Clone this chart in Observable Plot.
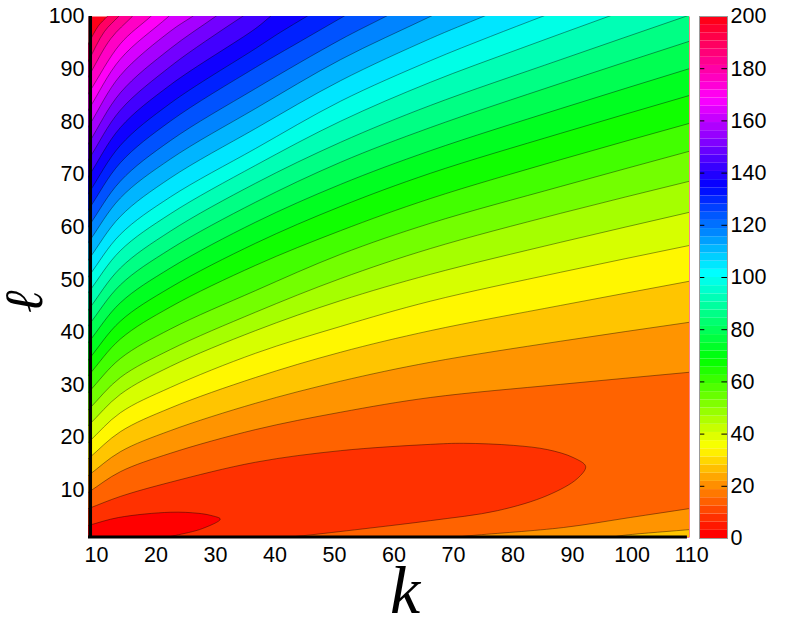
<!DOCTYPE html>
<html>
<head>
<meta charset="utf-8">
<script src="https://cdn.jsdelivr.net/npm/d3@7"></script>
<script src="https://cdn.jsdelivr.net/npm/@observablehq/plot@0.6"></script>
<style>
html,body{margin:0;padding:0;background:#fff}
#chart{position:relative;width:789px;height:619px;overflow:hidden}
#chart svg{position:absolute;left:0;top:0}
</style>
</head>
<body>
<div id="chart"></div>
<script>
// Band colours, lowest value (index 0) to highest
const bandColors = ["#ff0000","#ff3100","#ff6300","#ff9400","#ffc500","#fff700","#d6ff00","#a5ff00","#73ff00","#42ff00","#10ff00","#00ff21","#00ff52","#00ff84","#00ffb5","#00ffe6","#00e6ff","#00b5ff","#0084ff","#0052ff","#0021ff","#1000ff","#4200ff","#7300ff","#a500ff","#d600ff","#ff00f7","#ff00c5","#ff0094","#ff0063","#ff0018"];

// Contours 3..13 read at shared k columns (they run from the left edge to the right edge)
const gridK = [8.65,14,22.4,36.7,51,66.1,88,109.65];
const contoursOnGrid = [
  [9.6,13.5,17.0,21.5,24.8,27.6,30.1,32.4],
  [12.8,17.3,21.3,26.5,30.7,34.3,38.3,41.9],
  [16.0,21.1,25.6,31.4,36.2,40.3,45.1,49.7],
  [19.1,24.7,29.5,36.0,41.1,45.9,51.4,56.5],
  [22.3,28.2,33.5,40.3,46.0,51.0,57.1,62.8],
  [25.3,31.4,36.7,43.8,50.2,55.9,62.6,68.7],
  [28.6,35.0,40.6,47.9,54.8,60.7,67.7,74.4],
  [31.8,38.7,44.8,52.7,59.3,65.4,72.8,79.7],
  [34.8,42.1,48.5,56.9,63.9,70.2,77.8,85.0],
  [38.1,45.6,52.2,60.9,68.1,74.5,82.5,90.1],
  [41.3,49.0,55.8,64.7,72.3,78.9,87.3,95.3]
];
// Contours 14..30 run from the left edge to the top edge: [k, l] pairs
const contoursToTop = [
  [[8.65,44.3],[14,52.2],[22.4,59.2],[36.7,68.3],[51,76.1],[66.1,83.1],[88,91.8],[108.95,100]],
  [[8.65,47.6],[14,55.5],[22.4,62.5],[36.7,71.7],[51,80.1],[66.1,87.5],[81.2,93.9],[96.0,100]],
  [[8.65,50.6],[14,58.6],[22.4,65.7],[36.7,74.9],[51,83.9],[66.1,91.6],[76.2,96.2],[84.9,100]],
  [[8.65,53.8],[14,62.0],[22.4,69.3],[36.7,78.7],[51,87.8],[66.1,95.8],[75.0,100]],
  [[8.65,57.1],[14,65.5],[22.4,72.9],[36.7,82.5],[51,91.8],[66.1,100]],
  [[8.65,60.1],[14,68.7],[22.4,76.4],[36.7,86.3],[51,95.6],[58.6,100]],
  [[8.65,63.3],[14,72.2],[22.4,80.1],[36.7,90.3],[44.3,95.3],[51.5,100]],
  [[8.65,66.4],[14,75.5],[22.4,83.5],[36.7,93.9],[40.9,97.0],[45.3,100]],
  [[8.65,69.6],[14,78.9],[22.4,87.0],[36.7,97.7],[39.2,100]],
  [[8.65,72.8],[14,82.2],[22.4,90.5],[28.3,95.3],[34.5,100]],
  [[8.65,75.9],[14,85.5],[22.4,93.9],[30.0,100]],
  [[8.65,79.1],[14,88.8],[22.4,97.2],[26.1,100]],
  [[8.65,82.3],[14,91.9],[22.1,100]],
  [[8.65,85.4],[14,94.8],[19.1,100]],
  [[8.65,88.6],[12.4,95.8],[16.0,100]],
  [[8.65,91.6],[11.3,97.1],[13.7,100]],
  [[8.65,94.9],[10.3,98.2],[11.8,100]]
];
// Closed low-value lobes, walked clockwise from the left edge to the bottom edge
const lobeOuter = [[8.65,6.5],[14,8.8],[22.4,11.5],[36.7,15.3],[51,17.5],[66.1,18.7],[71.7,18.9],[80.1,18.5],[85.8,17.7],[90.1,16.2],[92.2,14.5],[90.8,12.2],[85.8,9.0],[77.4,6.1],[66.1,4.2],[56.0,2.8],[46.0,1.5],[41.8,1.0]];
const lobeInner = [[8.65,3.3],[13.7,4.8],[22.4,5.8],[27.1,5.6],[29.2,5.2],[30.8,4.5],[27.8,2.7],[23.3,1.4],[21.6,1.0]];
// Bottom-right corner contours
const cornerLower = [[69.8,1.0],[73.3,1.4],[88.5,2.9],[99.7,4.8],[109.65,6.5]];
const cornerUpper = [[96.4,1.0],[98.5,1.4],[109.65,2.5]];

const kTicks = [10,20,30,40,50,60,70,80,90,100,110];
const lTicks = [10,20,30,40,50,60,70,80,90,100];
const barTicks = [0,20,40,60,80,100,120,140,160,180,200];
const barSteps = 64;

const kDomain = [8.65,109.65];
const lDomain = [1,100];
const font = "Liberation Sans, Arial, sans-serif";
const curve = "catmull-rom";

// Closes a contour off-frame so that the polygon covers everything on its low-value side.
function underCurve(pts){
  const [a,b] = pts, y = pts[pts.length-1], x = pts[pts.length-2];
  const pre = [a[0]-(b[0]-a[0]), a[1]-(b[1]-a[1])];
  const post = [y[0]+(y[0]-x[0]), y[1]+(y[1]-x[1])];
  return [pre,...pts,post,[170,post[1]+20],[170,-90],[-40,-90],[-40,pre[1]]];
}
function lobe(pts){
  const [a,b] = pts, y = pts[pts.length-1], x = pts[pts.length-2];
  const pre = [a[0]-(b[0]-a[0]), a[1]-(b[1]-a[1])];
  const post = [y[0]+(y[0]-x[0]), y[1]+(y[1]-x[1])];
  return [pre,...pts,post,[post[0],-40],[-40,-40],[-40,pre[1]]];
}
function corner(pts){
  const [a,b] = pts, y = pts[pts.length-1], x = pts[pts.length-2];
  const pre = [a[0]-(b[0]-a[0]), a[1]-(b[1]-a[1])];
  const post = [y[0]+(y[0]-x[0]), y[1]+(y[1]-x[1])];
  return [pre,...pts,post,[170,post[1]],[170,-40],[pre[0],-40]];
}
const region = (rows, fill) => Plot.line(rows,{
  x:d=>d[0], y:d=>d[1], fill, stroke:"#000", strokeOpacity:0.5, strokeWidth:0.8, curve, clip:true
});

const gridCurves = contoursOnGrid.map(row=>row.map((l,i)=>[gridK[i],l]));
const ascending = [...gridCurves,...contoursToTop];   // contour 3 first, contour 30 last

const marks = [Plot.frame({fill:bandColors[30]})];
for(let i=ascending.length-1;i>=0;i--){
  marks.push(region(underCurve(ascending[i]), bandColors[i+2]));
}
marks.push(region(lobe(lobeOuter), bandColors[1]));
marks.push(region(lobe(lobeInner), bandColors[0]));
marks.push(region(corner(cornerLower), bandColors[3]));
marks.push(region(corner(cornerUpper), bandColors[4]));
marks.push(Plot.ruleX([8.95],{y1:1,y2:100,stroke:"#000",strokeWidth:3.5}));
marks.push(Plot.ruleY([1.1],{x1:8.65,x2:109.3,stroke:"#000",strokeWidth:3}));
marks.push(Plot.axisX({ticks:kTicks,anchor:"bottom",tickSize:0,tickPadding:9,tickFormat:d=>String(d),label:null,fontSize:21.5,fontFamily:font,fill:"#000"}));
marks.push(Plot.axisY({ticks:lTicks,anchor:"left",tickSize:0,tickPadding:4,tickFormat:d=>String(d),label:null,fontSize:21.5,fontFamily:font,fill:"#000"}));
marks.push(Plot.text(["k"],{frameAnchor:"bottom",dx:16,dy:75,fontSize:68,fontStyle:"italic",fontFamily:"Liberation Serif",fill:"#000"}));
marks.push(Plot.text(["\u2113"],{frameAnchor:"left",dx:-64,dy:36,rotate:-90,fontSize:54,fontStyle:"italic",fontFamily:"Liberation Serif",fill:"#000"}));

const main = Plot.plot({
  width:789,height:619,
  marginLeft:88,marginRight:100,marginTop:16,marginBottom:82,
  style:{background:"transparent",overflow:"visible"},
  x:{domain:kDomain,label:null},
  y:{domain:lDomain,label:null},
  marks
});

const barBands = d3.range(barSteps).map(i=>({
  v0:i*200/barSteps, v1:(i+1)*200/barSteps, color:d3.hsl(i*360/barSteps,1,0.5).formatHex()
}));
const bar = Plot.plot({
  width:789,height:619,
  marginLeft:699,marginRight:62,marginTop:16,marginBottom:81,
  style:{background:"transparent",overflow:"visible"},
  x:{domain:[0,1],axis:null},
  y:{domain:[0,200],label:null},
  marks:[
    Plot.rect(barBands,{x1:0,x2:1,y1:"v0",y2:"v1",fill:d=>d.color}),
    Plot.ruleY(barTicks,{x1:0,x2:0.19,stroke:"#000",strokeWidth:1}),
    Plot.ruleY(barTicks,{x1:0.8,x2:1,stroke:"#000",strokeWidth:1}),
    Plot.frame({stroke:"#999",strokeWidth:1}),
    Plot.axisY({ticks:barTicks,anchor:"right",tickSize:0,tickPadding:3,tickFormat:d=>String(d),label:null,fontSize:21.5,fontFamily:font,fill:"#000"})
  ]
});
const host = document.getElementById("chart");
host.appendChild(main);
host.appendChild(bar);
</script>
</body>
</html>
